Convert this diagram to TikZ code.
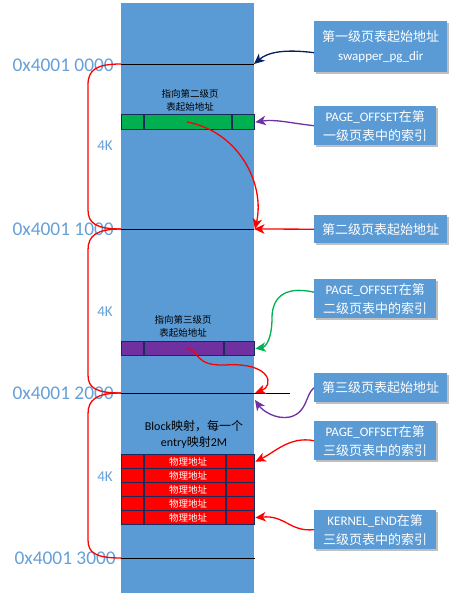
\documentclass[tikz,border=0pt]{standalone}
\usepackage{fontspec}
\setmainfont{Carlito}
\newfontfamily\cjk{Noto Sans CJK SC}
\usetikzlibrary{arrows.meta,shadows}
\definecolor{colblue}{HTML}{5B9BD5}
\definecolor{lblblue}{HTML}{66A0D8}
\definecolor{navyline}{HTML}{1B2A5C}
\definecolor{navyarr}{HTML}{002060}
\definecolor{bargreen}{HTML}{00B050}
\definecolor{barpurple}{HTML}{7030A0}
\definecolor{redfill}{HTML}{FF0000}
\tikzset{
  infobox/.style={fill=colblue, text=white, inner sep=0pt, align=center,
    font=\fontsize{13}{19}\selectfont, anchor=north west,
    drop shadow={shadow xshift=1.5pt, shadow yshift=-1.5pt, opacity=0.25, fill=black}},
  widebox/.style={infobox, minimum width=133pt},
  narrowbox/.style={infobox, minimum width=122pt},
  addr/.style={text=lblblue, font=\fontsize{19.4}{22}\selectfont, inner sep=0pt, anchor=east},
  sizelbl/.style={text=lblblue, font=\fontsize{15}{18}\selectfont, inner sep=0pt},
  memline/.style={black, line width=0.8pt},
  bracket/.style={red, line width=1.3pt},
  barbox/.style={draw=navyline, line width=1.3pt, inner sep=0pt, minimum width=133pt, anchor=north west},
  divider/.style={navyline, line width=1.3pt},
  small/.style={font=\fontsize{9.5}{12.5}\selectfont, align=center, inner sep=0pt},
  arr/.style={line width=1.3pt, -{Stealth[length=10.5pt,width=9.5pt,inset=3pt]}},
}
\begin{document}
\begin{tikzpicture}[x=1pt,y=-1pt]
\useasboundingbox (0,0) rectangle (454,604);
\fill[white] (0,0) rectangle (454,604);

% memory column
\node[fill=colblue, inner sep=0pt, minimum width=133pt, minimum height=590pt, anchor=north west] (col) at (121,3) {};

% address lines
\coordinate (l0w) at (121,64);  \coordinate (l0e) at (254,64);
\coordinate (l1w) at (121,229); \coordinate (l1e) at (254,229);
\coordinate (l2w) at (121,393); \coordinate (l2e) at (254,393); \coordinate (l2x) at (290,393);
\coordinate (l3w) at (121,558); \coordinate (l3e) at (255,558);
\draw[memline] (l0w) -- (l0e);
\draw[memline] (l1w) -- (l1e);
\draw[memline] (l2w) -- (l2x);
\draw[memline] (l3w) -- (l3e);

% address labels
\node[addr] (a0) at (114,65.5) {0x4001 0000};
\node[addr] (a1) at (114,229.5) {0x4001 1000};
\node[addr] (a2) at (114,393.5) {0x4001 2000};
\node[addr] (a3) at (116,558.5) {0x4001 3000};

% 4K labels
\node[sizelbl] (k0) at (105,146) {4K};
\node[sizelbl] (k1) at (105,312) {4K};
\node[sizelbl] (k2) at (105,477) {4K};

% brackets
\draw[bracket] (l0w) .. controls (96,64) and (88,70) .. (88,85) -- (88,210) .. controls (88,223) and (96,229) .. (l1w);
\draw[bracket] (l1w) .. controls (96,229) and (88,236) .. (88,250) -- (88,375) .. controls (88,388) and (96,393) .. (l2w);
\draw[bracket] (l2w) .. controls (96,393) and (88,400) .. (88,414) -- (88,540) .. controls (88,553) and (96,558) .. (l3w);

% first-level table entry
\node[small] (t1) at (190,100.5) {{\cjk 指向第二级页}\\{\cjk 表起始地址}};
\node[barbox, fill=bargreen, minimum height=15pt] (g) at (121,114) {};
\draw[divider] (144,114) -- (144,129);
\draw[divider] (232,114) -- (232,129);

% second-level table entry
\node[small] (t2) at (183,326.5) {{\cjk 指向第三级页}\\{\cjk 表起始地址}};
\node[barbox, fill=barpurple, minimum height=14pt] (p) at (121,341) {};
\draw[divider] (144,341) -- (144,355);
\draw[divider] (224,341) -- (224,355);

% third-level table
\node[font=\fontsize{12}{16}\selectfont, align=center, inner sep=0pt] (t3) at (194,434) {Block{\cjk 映射，每一个}\\entry{\cjk 映射}2M};
\foreach \i in {0,...,4}{
  \node[barbox, fill=redfill, minimum height=14pt, text=white, font=\fontsize{9.5}{11}\cjk] (r\i) at (121,{454+14*\i}) {物理地址};
}
\draw[divider] (144,454) -- (144,524);
\draw[divider] (226,454) -- (226,524);

% info boxes
\node[widebox, minimum height=51pt] (b1) at (314,21) {{\cjk 第一级页表起始地址}\\swapper\_pg\_dir};
\node[narrowbox, minimum height=39pt] (b2) at (314,106) {PAGE\_OFFSET{\cjk 在第}\\{\cjk 一级页表中的索引}};
\node[widebox, minimum height=28pt] (b3) at (314,215) {{\cjk 第二级页表起始地址}};
\node[narrowbox, minimum height=39pt] (b4) at (314,279) {PAGE\_OFFSET{\cjk 在第}\\{\cjk 二级页表中的索引}};
\node[widebox, minimum height=29pt] (b5) at (314,373) {{\cjk 第三级页表起始地址}};
\node[narrowbox, minimum height=39pt] (b6) at (314,421) {PAGE\_OFFSET{\cjk 在第}\\{\cjk 三级页表中的索引}};
\node[narrowbox, minimum height=39pt] (b7) at (314,510) {KERNEL\_END{\cjk 在第}\\{\cjk 三级页表中的索引}};

% arrows
\coordinate (gc) at (187,122);
\coordinate (pc) at (187,348);
\coordinate (t7) at (255,400);
\draw[arr, navyarr] ([yshift=-6pt]b1.west) .. controls (285,49) and (268,52) .. (l0e);
\draw[arr, barpurple] (b2.west) .. controls (290,123) and (275,119) .. (g.east);
\draw[arr, red] (gc) .. controls (240,132) and (265,185) .. ([xshift=1pt]l1e);
\draw[arr, red] (b3.west) -- (l1e);
\draw[arr, bargreen] ([yshift=6.5pt]b4.west) .. controls (282,285) and (272,300) .. (272,318) .. controls (272,338) and (266,347) .. (p.east);
\draw[arr, red] (pc) .. controls (200,352) and (195,366) .. (225,365) .. controls (272,362) and (274,386) .. ([xshift=1pt]l2e);
\draw[arr, barpurple] (b5.west) .. controls (305,395) and (308,412) .. (290,417) .. controls (275,420) and (262,410) .. (t7);
\draw[arr, red] (b6.west) .. controls (290,436) and (275,452) .. (r0.east);
\draw[arr, red] (b7.west) .. controls (290,532) and (285,515) .. (r4.east);
\end{tikzpicture}
\end{document}
